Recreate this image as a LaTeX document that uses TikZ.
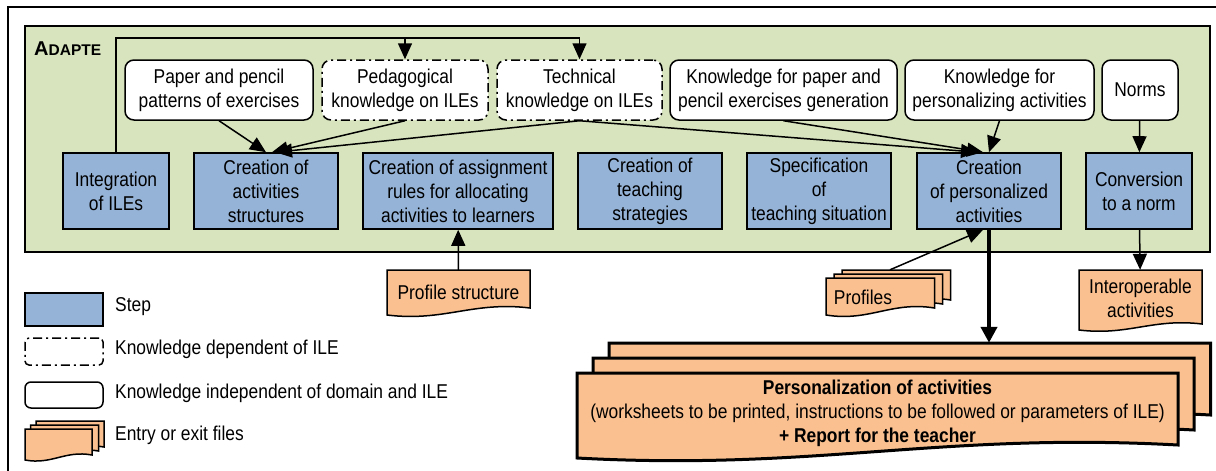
\documentclass[tikz,border=0pt]{standalone}
\usepackage{fontspec}
\setmainfont{Liberation Sans}[FakeStretch=0.87]
\newfontfamily\adfont{Liberation Sans}
\usetikzlibrary{arrows.meta,calc}

\definecolor{panelgreen}{HTML}{D7E4BD}
\definecolor{stepblue}{HTML}{95B3D7}
\definecolor{fileorange}{HTML}{FAC090}

\newcommand\docshp[6]{\path[#6] (#1,#2) -- (#3,#2) -- (#3,{#4-#5}) .. controls ({#1+0.6*(#3-#1)},{#4-2*#5}) and ({#1+0.4*(#3-#1)},{#4+#5}) .. (#1,#4) -- cycle;}

\tikzset{
  every node/.style={font=\fontsize{20}{24}\selectfont},
  stepbox/.style={draw, fill=stepblue, line width=1.6pt, align=center, inner sep=0pt},
  knowbox/.style={draw, fill=white, rounded corners=9pt, line width=1.5pt, align=center, inner sep=0pt},
  ilebox/.style={knowbox, dash pattern=on 9pt off 4pt on 2pt off 4pt},
  arr/.style={line width=1.5pt, -{Triangle[length=16pt,width=14pt]}},
  bigarr/.style={line width=4pt, -{Triangle[length=16pt,width=16pt]}},
  docfill/.style={draw, fill=fileorange, line width=1.5pt, line join=miter},
  bigdoc/.style={docfill, line width=3pt},
  lbl/.style={inner sep=0pt, align=center},
  legtext/.style={anchor=west, inner sep=0pt},
}

\begin{document}
\begin{tikzpicture}[x=1pt,y=-1pt]
\useasboundingbox (0,0) rectangle (1216,471);

% outer frame
\draw[line width=1.3pt] (8,471) -- (8,7) -- (1216,7);

% ADAPTE panel
\draw[fill=panelgreen, line width=1.2pt] (25,26) rectangle (1210,252);
\node[anchor=base west, inner sep=0pt] (adapte) at (34,55) {\adfont\bfseries A\fontsize{15.5}{18}\selectfont DAPTE};

% knowledge boxes
\node[knowbox, minimum width=188, minimum height=60] (paper) at (219,90) {Paper and pencil\\patterns of exercises};
\node[ilebox, minimum width=166, minimum height=60] (ped) at (405,90) {Pedagogical\\knowledge on ILEs};
\node[ilebox, minimum width=165, minimum height=60] (tech) at (579.5,90) {Technical\\knowledge on ILEs};
\node[knowbox, minimum width=227, minimum height=60] (kpaper) at (783.5,90) {Knowledge for paper and\\pencil exercises generation};
\node[knowbox, minimum width=189, minimum height=60] (kpers) at (999.5,90) {Knowledge for\\personalizing activities};
\node[knowbox, minimum width=76, minimum height=60] (norms) at (1140,90) {Norms};

% steps
\node[stepbox, minimum width=106, minimum height=76] (integ) at (116,191) {Integration\\of ILEs};
\node[stepbox, minimum width=144, minimum height=76] (act) at (266,191) {Creation of\\activities\\structures};
\node[stepbox, minimum width=190, minimum height=76] (asg) at (458,191) {Creation of assignment\\rules for allocating\\activities to learners};
\node[stepbox, minimum width=144, minimum height=76] (strat) at (650,191) {Creation of\\teaching\\strategies};
\node[stepbox, minimum width=144, minimum height=76] (spec) at (819,191) {Specification\\of\\teaching situation};
\node[stepbox, minimum width=144, minimum height=76] (pers) at (989,191) {Creation\\of personalized\\activities};
\node[stepbox, minimum width=106, minimum height=76] (conv) at (1139,191) {Conversion\\to a norm};

% files
\docshp{387}{270}{530}{315}{7}{docfill}
\node[lbl, minimum width=143, minimum height=45] (profs) at (458.5,292.5) {Profile structure};

\docshp{842}{270}{950.5}{307}{7}{docfill}
\docshp{834}{274}{942.5}{311}{7}{docfill}
\docshp{826}{278}{934.5}{315}{7}{docfill}
\node[lbl, minimum width=108, minimum height=37] (profb) at (896,288.5) {};
\node[lbl] (profiles) at (863,297) {Profiles};

\docshp{1079}{270}{1202}{330}{6}{docfill}
\node[lbl, minimum width=123, minimum height=56] (interop) at (1140.5,298) {Interoperable\\activities};

\docshp{609}{343}{1210.5}{428}{13}{bigdoc}
\docshp{593}{358}{1194}{443}{13}{bigdoc}
\docshp{577}{373}{1178}{458}{13}{bigdoc}
\node[lbl, minimum width=601, minimum height=84] (bigb) at (910,385) {};
\node[lbl] (perso) at (877.5,413) {\textbf{Personalization of activities}\\(worksheets to be printed, instructions to be followed or parameters of ILE)\\\textbf{+ Report for the teacher}};

% legend
\node[stepbox, minimum width=78, minimum height=33] (legstep) at (64,309.5) {};
\node[legtext] (legsteptxt) at (115,307) {Step};
\node[ilebox, rounded corners=4pt, minimum width=78, minimum height=27] (legile) at (64,351.5) {};
\node[legtext] (legiletxt) at (115,349) {Knowledge dependent of ILE};
\node[knowbox, rounded corners=6pt, minimum width=78, minimum height=26] (legind) at (64,395) {};
\node[legtext] (legindtxt) at (115,393) {Knowledge independent of domain and ILE};
\docshp{36}{421}{104}{452}{5}{docfill}
\docshp{30.5}{425}{98.5}{456}{5}{docfill}
\docshp{25}{429}{92}{460}{5}{docfill}
\node[legtext] (legfiletxt) at (115,435) {Entry or exit files};

% connectors
\coordinate (topjoin) at (405,38);
\draw[arr] (integ.north) |- (topjoin) -- (ped.north);
\draw[arr] (topjoin) -| (tech.north);
\draw[arr] (paper.south) -- (act.north);
\draw[arr] (ped.south) -- ($(act.north)+(6,0)$);
\draw[arr] (tech.south) -- ($(act.north)+(10,0)$);
\draw[arr] (tech.south) -- ($(pers.north)+(-12,0)$);
\draw[arr] (kpaper.south) -- ($(pers.north)+(-6,0)$);
\draw[arr] (kpers.south) -- (pers.north);
\draw[arr] (norms) -- (conv);
\draw[arr] (conv) -- (interop);
\draw[arr] (profs) -- (asg);
\draw[arr] ($(profb.north)+(-6,0)$) -- ($(pers.south)+(-6,0)$);
\draw[bigarr] (pers.south) -- (pers.south |- bigb.north);
\end{tikzpicture}
\end{document}
